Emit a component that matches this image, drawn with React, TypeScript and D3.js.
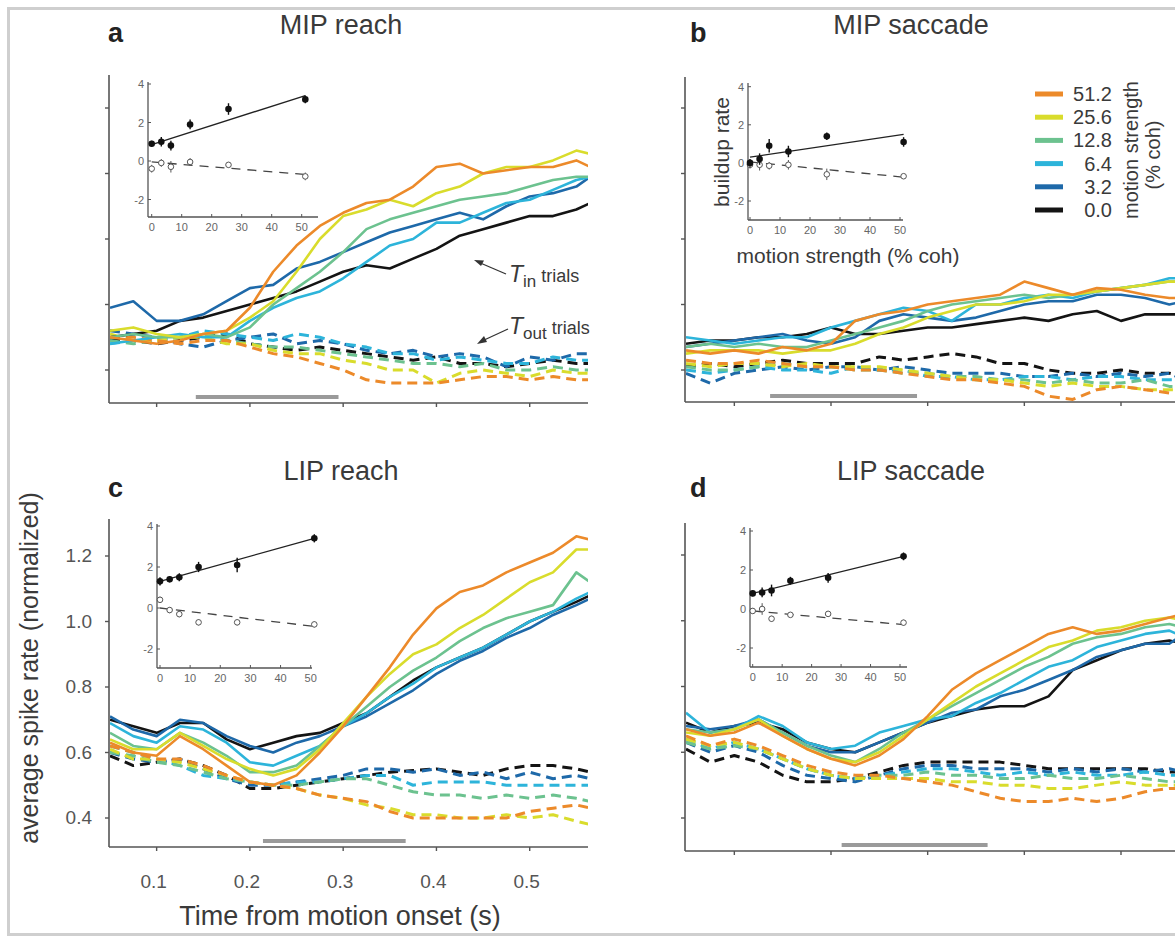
import React from 'react';
import * as d3 from 'd3';

// ---------- data ----------
const TIMES = [0.05, 0.075, 0.1, 0.125, 0.15, 0.175, 0.2, 0.225, 0.25, 0.275, 0.3, 0.325, 0.35, 0.375, 0.4, 0.425, 0.45, 0.475, 0.5, 0.525, 0.55, 0.565];
const COH_LABELS = ['51.2', '25.6', '12.8', '6.4', '3.2', '0.0'];
const COH_COLORS = ['#EC8A2A', '#D9DC2C', '#6CC28F', '#2DB4DA', '#1E69A9', '#141414'];
const Y_TICKS = [0.4, 0.6, 0.8, 1.0, 1.2];
const X_TICKS = [0.1, 0.2, 0.3, 0.4, 0.5];

// rows: 51.2, 25.6, 12.8, 6.4, 3.2, 0.0
const A_TIN = [
  [0.50, 0.49, 0.48, 0.49, 0.51, 0.52, 0.59, 0.70, 0.78, 0.84, 0.88, 0.91, 0.92, 0.96, 1.02, 1.03, 1.00, 1.01, 1.02, 1.02, 1.04, 1.02],
  [0.52, 0.53, 0.51, 0.50, 0.51, 0.52, 0.56, 0.61, 0.70, 0.80, 0.87, 0.89, 0.92, 0.90, 0.94, 0.96, 1.00, 1.02, 1.02, 1.04, 1.07, 1.06],
  [0.50, 0.51, 0.50, 0.50, 0.51, 0.50, 0.53, 0.60, 0.65, 0.70, 0.76, 0.83, 0.86, 0.88, 0.90, 0.92, 0.93, 0.94, 0.96, 0.98, 0.99, 0.99],
  [0.48, 0.49, 0.50, 0.51, 0.50, 0.50, 0.55, 0.59, 0.62, 0.64, 0.68, 0.73, 0.78, 0.80, 0.85, 0.85, 0.88, 0.91, 0.92, 0.95, 0.98, 0.99],
  [0.59, 0.61, 0.55, 0.55, 0.57, 0.61, 0.65, 0.66, 0.71, 0.73, 0.76, 0.79, 0.82, 0.84, 0.86, 0.88, 0.86, 0.90, 0.93, 0.94, 0.96, 0.99],
  [0.50, 0.51, 0.52, 0.55, 0.56, 0.58, 0.60, 0.62, 0.64, 0.67, 0.70, 0.72, 0.71, 0.74, 0.77, 0.81, 0.83, 0.85, 0.87, 0.87, 0.89, 0.91],
];
const A_TOUT = [
  [0.50, 0.50, 0.49, 0.48, 0.49, 0.49, 0.47, 0.45, 0.44, 0.42, 0.40, 0.37, 0.36, 0.36, 0.36, 0.37, 0.38, 0.38, 0.37, 0.38, 0.37, 0.37],
  [0.51, 0.49, 0.49, 0.50, 0.50, 0.48, 0.48, 0.46, 0.45, 0.45, 0.43, 0.42, 0.40, 0.40, 0.36, 0.39, 0.40, 0.39, 0.38, 0.40, 0.39, 0.39],
  [0.49, 0.48, 0.49, 0.50, 0.51, 0.49, 0.48, 0.47, 0.47, 0.46, 0.45, 0.44, 0.43, 0.42, 0.42, 0.41, 0.42, 0.40, 0.40, 0.41, 0.40, 0.40],
  [0.48, 0.49, 0.50, 0.50, 0.52, 0.51, 0.50, 0.49, 0.51, 0.50, 0.48, 0.47, 0.45, 0.45, 0.43, 0.44, 0.43, 0.42, 0.42, 0.44, 0.43, 0.43],
  [0.52, 0.51, 0.50, 0.48, 0.47, 0.49, 0.50, 0.51, 0.48, 0.49, 0.48, 0.46, 0.45, 0.46, 0.44, 0.45, 0.44, 0.41, 0.44, 0.43, 0.45, 0.45],
  [0.49, 0.49, 0.48, 0.49, 0.50, 0.51, 0.48, 0.47, 0.46, 0.47, 0.46, 0.45, 0.44, 0.43, 0.44, 0.42, 0.42, 0.41, 0.42, 0.43, 0.42, 0.42],
];
const B_TIN = [
  [0.46, 0.45, 0.46, 0.45, 0.47, 0.46, 0.48, 0.55, 0.57, 0.58, 0.60, 0.61, 0.62, 0.63, 0.67, 0.65, 0.63, 0.65, 0.645, 0.63, 0.62, 0.62],
  [0.45, 0.46, 0.46, 0.46, 0.45, 0.46, 0.46, 0.48, 0.51, 0.53, 0.56, 0.58, 0.60, 0.60, 0.61, 0.63, 0.63, 0.64, 0.65, 0.66, 0.67, 0.67],
  [0.47, 0.48, 0.47, 0.48, 0.47, 0.47, 0.49, 0.51, 0.53, 0.55, 0.58, 0.60, 0.61, 0.62, 0.63, 0.62, 0.63, 0.64, 0.65, 0.66, 0.67, 0.67],
  [0.50, 0.49, 0.48, 0.49, 0.50, 0.50, 0.53, 0.55, 0.57, 0.59, 0.58, 0.55, 0.60, 0.60, 0.62, 0.63, 0.62, 0.64, 0.65, 0.66, 0.68, 0.68],
  [0.47, 0.48, 0.49, 0.50, 0.51, 0.49, 0.48, 0.50, 0.55, 0.57, 0.56, 0.55, 0.56, 0.58, 0.60, 0.61, 0.61, 0.63, 0.63, 0.62, 0.60, 0.61],
  [0.48, 0.49, 0.49, 0.50, 0.50, 0.51, 0.53, 0.51, 0.51, 0.52, 0.53, 0.53, 0.54, 0.55, 0.56, 0.55, 0.57, 0.58, 0.55, 0.57, 0.57, 0.57],
];
const B_TOUT = [
  [0.43, 0.42, 0.42, 0.43, 0.42, 0.41, 0.41, 0.40, 0.40, 0.39, 0.38, 0.37, 0.37, 0.36, 0.35, 0.32, 0.31, 0.34, 0.35, 0.34, 0.33, 0.33],
  [0.42, 0.41, 0.42, 0.42, 0.41, 0.42, 0.41, 0.41, 0.41, 0.40, 0.39, 0.38, 0.37, 0.37, 0.36, 0.35, 0.36, 0.35, 0.35, 0.34, 0.34, 0.34],
  [0.41, 0.40, 0.40, 0.41, 0.42, 0.41, 0.41, 0.40, 0.40, 0.39, 0.39, 0.38, 0.38, 0.37, 0.37, 0.36, 0.37, 0.36, 0.36, 0.37, 0.35, 0.35],
  [0.40, 0.39, 0.40, 0.41, 0.40, 0.40, 0.39, 0.41, 0.40, 0.40, 0.38, 0.38, 0.37, 0.37, 0.38, 0.38, 0.37, 0.38, 0.38, 0.37, 0.37, 0.37],
  [0.39, 0.36, 0.39, 0.40, 0.41, 0.40, 0.41, 0.41, 0.40, 0.41, 0.40, 0.39, 0.39, 0.39, 0.38, 0.38, 0.39, 0.38, 0.39, 0.38, 0.39, 0.37],
  [0.41, 0.42, 0.41, 0.42, 0.43, 0.42, 0.42, 0.42, 0.44, 0.43, 0.44, 0.45, 0.44, 0.42, 0.42, 0.40, 0.39, 0.39, 0.40, 0.39, 0.39, 0.38],
];
const C_TIN = [
  [0.63, 0.60, 0.59, 0.65, 0.61, 0.56, 0.51, 0.50, 0.53, 0.60, 0.68, 0.77, 0.86, 0.96, 1.04, 1.09, 1.11, 1.15, 1.18, 1.21, 1.26, 1.25],
  [0.64, 0.61, 0.61, 0.66, 0.62, 0.58, 0.55, 0.53, 0.55, 0.61, 0.69, 0.77, 0.84, 0.90, 0.93, 0.98, 1.02, 1.07, 1.12, 1.15, 1.22, 1.22],
  [0.66, 0.62, 0.61, 0.66, 0.63, 0.59, 0.54, 0.54, 0.56, 0.62, 0.68, 0.74, 0.80, 0.85, 0.89, 0.94, 0.98, 1.01, 1.03, 1.05, 1.15, 1.12],
  [0.69, 0.65, 0.63, 0.68, 0.67, 0.63, 0.57, 0.56, 0.59, 0.62, 0.68, 0.72, 0.77, 0.81, 0.86, 0.89, 0.92, 0.96, 1.00, 1.03, 1.07, 1.09],
  [0.71, 0.67, 0.65, 0.70, 0.69, 0.65, 0.62, 0.60, 0.63, 0.65, 0.68, 0.71, 0.75, 0.79, 0.84, 0.88, 0.91, 0.95, 0.98, 1.02, 1.05, 1.07],
  [0.70, 0.68, 0.66, 0.69, 0.69, 0.64, 0.61, 0.63, 0.65, 0.66, 0.69, 0.72, 0.77, 0.82, 0.86, 0.89, 0.92, 0.96, 1.00, 1.03, 1.06, 1.08],
];
const C_TOUT = [
  [0.62, 0.60, 0.58, 0.58, 0.56, 0.53, 0.51, 0.50, 0.49, 0.47, 0.46, 0.45, 0.42, 0.40, 0.40, 0.40, 0.40, 0.40, 0.42, 0.43, 0.44, 0.43],
  [0.61, 0.58, 0.58, 0.57, 0.55, 0.53, 0.51, 0.50, 0.49, 0.47, 0.46, 0.44, 0.43, 0.41, 0.41, 0.40, 0.40, 0.41, 0.40, 0.41, 0.39, 0.38],
  [0.60, 0.59, 0.57, 0.56, 0.54, 0.52, 0.51, 0.50, 0.50, 0.51, 0.52, 0.52, 0.50, 0.48, 0.47, 0.47, 0.46, 0.47, 0.46, 0.47, 0.46, 0.45],
  [0.62, 0.60, 0.58, 0.56, 0.53, 0.52, 0.51, 0.50, 0.51, 0.51, 0.52, 0.53, 0.53, 0.50, 0.51, 0.51, 0.51, 0.50, 0.50, 0.50, 0.50, 0.50],
  [0.60, 0.58, 0.57, 0.58, 0.55, 0.52, 0.50, 0.50, 0.51, 0.52, 0.53, 0.55, 0.55, 0.54, 0.55, 0.53, 0.54, 0.52, 0.54, 0.52, 0.53, 0.52],
  [0.59, 0.56, 0.57, 0.58, 0.56, 0.53, 0.49, 0.49, 0.50, 0.51, 0.52, 0.53, 0.54, 0.545, 0.55, 0.54, 0.53, 0.55, 0.56, 0.56, 0.55, 0.54],
];
const D_TIN = [
  [0.67, 0.65, 0.66, 0.69, 0.65, 0.61, 0.58, 0.56, 0.59, 0.64, 0.71, 0.79, 0.84, 0.88, 0.92, 0.96, 0.98, 0.96, 0.97, 0.99, 1.01, 1.02],
  [0.66, 0.65, 0.67, 0.70, 0.65, 0.61, 0.58, 0.57, 0.60, 0.65, 0.70, 0.75, 0.80, 0.84, 0.88, 0.92, 0.94, 0.97, 0.98, 1.00, 1.01, 1.00],
  [0.67, 0.66, 0.67, 0.70, 0.66, 0.62, 0.59, 0.57, 0.61, 0.66, 0.70, 0.74, 0.78, 0.82, 0.86, 0.89, 0.93, 0.95, 0.96, 0.98, 0.99, 0.98],
  [0.72, 0.66, 0.67, 0.71, 0.68, 0.63, 0.61, 0.62, 0.66, 0.68, 0.70, 0.71, 0.75, 0.78, 0.82, 0.86, 0.88, 0.92, 0.94, 0.96, 0.97, 0.95],
  [0.68, 0.67, 0.68, 0.70, 0.66, 0.62, 0.60, 0.60, 0.63, 0.66, 0.69, 0.72, 0.73, 0.77, 0.79, 0.82, 0.85, 0.89, 0.91, 0.93, 0.93, 0.96],
  [0.69, 0.66, 0.68, 0.69, 0.67, 0.63, 0.61, 0.60, 0.63, 0.66, 0.69, 0.71, 0.73, 0.74, 0.74, 0.77, 0.85, 0.88, 0.91, 0.93, 0.94, 0.93],
];
const D_TOUT = [
  [0.65, 0.62, 0.64, 0.62, 0.59, 0.56, 0.54, 0.53, 0.53, 0.52, 0.51, 0.50, 0.48, 0.46, 0.45, 0.45, 0.46, 0.45, 0.46, 0.48, 0.49, 0.49],
  [0.64, 0.62, 0.63, 0.61, 0.58, 0.55, 0.53, 0.52, 0.52, 0.52, 0.52, 0.51, 0.51, 0.50, 0.50, 0.49, 0.49, 0.50, 0.51, 0.50, 0.50, 0.50],
  [0.63, 0.61, 0.62, 0.61, 0.58, 0.55, 0.53, 0.52, 0.53, 0.53, 0.54, 0.53, 0.53, 0.52, 0.52, 0.53, 0.52, 0.52, 0.53, 0.52, 0.51, 0.51],
  [0.64, 0.61, 0.63, 0.61, 0.58, 0.55, 0.53, 0.52, 0.53, 0.54, 0.55, 0.55, 0.54, 0.53, 0.54, 0.53, 0.54, 0.53, 0.53, 0.54, 0.53, 0.53],
  [0.63, 0.60, 0.62, 0.60, 0.56, 0.53, 0.52, 0.51, 0.53, 0.55, 0.56, 0.56, 0.55, 0.55, 0.55, 0.54, 0.55, 0.54, 0.55, 0.54, 0.55, 0.54],
  [0.61, 0.57, 0.59, 0.57, 0.53, 0.51, 0.51, 0.52, 0.54, 0.56, 0.57, 0.57, 0.57, 0.57, 0.56, 0.55, 0.55, 0.55, 0.55, 0.55, 0.54, 0.54],
];

// stimulus (gray) bars, in seconds
const A_BAR = [0.142, 0.295];
const B_BAR = [0.137, 0.289];
const C_BAR = [0.214, 0.367];
const D_BAR = [0.211, 0.362];

// insets: buildup rate vs motion strength
const INSET_COH = [0, 3.2, 6.4, 12.8, 25.6, 51.2];
const INSET_X_TICKS = [0, 10, 20, 30, 40, 50];
const INSET_Y_TICKS = [-2, 0, 2, 4];
const A_IN_RATE = [0.9, 1.0, 0.8, 1.9, 2.7, 3.2];
const A_IN_ERR = [0.15, 0.25, 0.25, 0.25, 0.3, 0.2];
const A_OUT_RATE = [-0.4, -0.1, -0.3, -0.05, -0.2, -0.8];
const A_OUT_ERR = [0.2, 0.2, 0.3, 0.2, 0.15, 0.2];
const A_IN_FIT = [0.85, 3.4];
const A_OUT_FIT = [-0.05, -0.7];
const B_IN_RATE = [0.0, 0.2, 0.9, 0.6, 1.4, 1.1];
const B_IN_ERR = [0.2, 0.3, 0.35, 0.3, 0.2, 0.25];
const B_OUT_RATE = [-0.1, -0.1, -0.15, -0.1, -0.6, -0.7];
const B_OUT_ERR = [0.2, 0.3, 0.2, 0.25, 0.3, 0.1];
const B_IN_FIT = [0.3, 1.5];
const B_OUT_FIT = [0.05, -0.75];
const C_IN_RATE = [1.3, 1.4, 1.5, 2.0, 2.1, 3.4];
const C_IN_ERR = [0.2, 0.15, 0.2, 0.25, 0.35, 0.2];
const C_OUT_RATE = [0.4, -0.1, -0.3, -0.7, -0.7, -0.8];
const C_OUT_ERR = [0.15, 0.15, 0.15, 0.15, 0.15, 0.15];
const C_IN_FIT = [1.3, 3.4];
const C_OUT_FIT = [0.0, -0.9];
const D_IN_RATE = [0.8, 0.85, 0.95, 1.45, 1.6, 2.7];
const D_IN_ERR = [0.15, 0.25, 0.3, 0.2, 0.25, 0.2];
const D_OUT_RATE = [-0.1, 0.0, -0.5, -0.3, -0.25, -0.7];
const D_OUT_ERR = [0.15, 0.3, 0.15, 0.1, 0.15, 0.15];
const D_IN_FIT = [0.8, 2.7];
const D_OUT_FIT = [-0.1, -0.8];

// ---------- layout ----------
const PANELS = [
  {
    letter: 'a', title: 'MIP reach', letterX: 108, titleX: 341, headY: 34, letterY: 42,
    xDom: [0.05, 0.5625], xRange: [110, 588], axisTop: 75, axisBot: 403, yAt04: 370, yAt12: 108,
    tin: A_TIN, tout: A_TOUT, bar: A_BAR, yLabels: false, xLabels: false,
    inset: { xl: 148, xr: 318, x0: 151.7, x50: 301.7, yt: 82, yb: 217, y0: 161, y4: 84,
      inR: A_IN_RATE, inE: A_IN_ERR, outR: A_OUT_RATE, outE: A_OUT_ERR, inF: A_IN_FIT, outF: A_OUT_FIT },
  },
  {
    letter: 'b', title: 'MIP saccade', letterX: 690, titleX: 911, headY: 34, letterY: 42,
    xDom: [0.05, 0.56], xRange: [686, 1179], axisTop: 77, axisBot: 402, yAt04: 370, yAt12: 108,
    tin: B_TIN, tout: B_TOUT, bar: B_BAR, yLabels: false, xLabels: false,
    inset: { xl: 748, xr: 903, x0: 750, x50: 900, yt: 83, yb: 220, y0: 162.9, y4: 86.7,
      inR: B_IN_RATE, inE: B_IN_ERR, outR: B_OUT_RATE, outE: B_OUT_ERR, inF: B_IN_FIT, outF: B_OUT_FIT },
  },
  {
    letter: 'c', title: 'LIP reach', letterX: 108, titleX: 341, headY: 480, letterY: 497,
    xDom: [0.05, 0.5625], xRange: [110, 588], axisTop: 519, axisBot: 847, yAt04: 818, yAt12: 556,
    tin: C_TIN, tout: C_TOUT, bar: C_BAR, yLabels: true, xLabels: true,
    inset: { xl: 157, xr: 312, x0: 160, x50: 310.7, yt: 524, yb: 668, y0: 608, y4: 526,
      inR: C_IN_RATE, inE: C_IN_ERR, outR: C_OUT_RATE, outE: C_OUT_ERR, inF: C_IN_FIT, outF: C_OUT_FIT },
  },
  {
    letter: 'd', title: 'LIP saccade', letterX: 690, titleX: 911, headY: 480, letterY: 497,
    xDom: [0.05, 0.56], xRange: [686, 1179], axisTop: 523, axisBot: 851, yAt04: 818, yAt12: 555,
    tin: D_TIN, tout: D_TOUT, bar: D_BAR, yLabels: false, xLabels: false,
    inset: { xl: 750, xr: 907, x0: 752.7, x50: 900, yt: 528, yb: 667, y0: 609, y4: 531,
      inR: D_IN_RATE, inE: D_IN_ERR, outR: D_OUT_RATE, outE: D_OUT_ERR, inF: D_IN_FIT, outF: D_OUT_FIT },
  },
];

const FONT = 'Liberation Sans, Arial, Helvetica, sans-serif';
const AXIS_COLOR = '#555';
const TEXT_COLOR = '#3a3a3a';

function Inset({ cfg }: { cfg: any }) {
  const x = d3.scaleLinear().domain([0, 50]).range([cfg.x0, cfg.x50]);
  const y = d3.scaleLinear().domain([0, 4]).range([cfg.y0, cfg.y4]);
  const fitLine = d3.line<number>().x((_, i) => x(i === 0 ? 0 : 51.2)).y((d) => y(d));
  const markerPts = INSET_COH.map((c, i) => ({ c, i }));
  return (
    <g>
      <line x1={cfg.xl} x2={cfg.xl} y1={cfg.yt} y2={cfg.yb} stroke={AXIS_COLOR} strokeWidth={1.3} />
      <line x1={cfg.xl} x2={cfg.xr} y1={cfg.yb} y2={cfg.yb} stroke={AXIS_COLOR} strokeWidth={1.3} />
      {INSET_Y_TICKS.map((t) => (
        <g key={'yt' + t}>
          <line x1={cfg.xl} x2={cfg.xl + 3} y1={y(t)} y2={y(t)} stroke={AXIS_COLOR} strokeWidth={1} />
          <text x={cfg.xl - 4} y={y(t) + 4} fontSize={11} textAnchor="end" fill="#666" fontFamily={FONT}>{t}</text>
        </g>
      ))}
      {INSET_X_TICKS.map((t) => (
        <g key={'xt' + t}>
          <line x1={x(t)} x2={x(t)} y1={cfg.yb} y2={cfg.yb - 3} stroke={AXIS_COLOR} strokeWidth={1} />
          <text x={x(t)} y={cfg.yb + 14} fontSize={11} textAnchor="middle" fill="#666" fontFamily={FONT}>{t}</text>
        </g>
      ))}
      <path d={fitLine(cfg.inF) || ''} fill="none" stroke="#222" strokeWidth={1.3} />
      <path d={fitLine(cfg.outF) || ''} fill="none" stroke="#444" strokeWidth={1.3} strokeDasharray="9,7" />
      {markerPts.map(({ c, i }) => (
        <g key={'o' + i}>
          <line x1={x(c)} x2={x(c)} y1={y(cfg.outR[i] - cfg.outE[i])} y2={y(cfg.outR[i] + cfg.outE[i])} stroke="#555" strokeWidth={1} />
          <circle cx={x(c)} cy={y(cfg.outR[i])} r={2.8} fill="#fff" stroke="#555" strokeWidth={1} />
        </g>
      ))}
      {markerPts.map(({ c, i }) => (
        <g key={'f' + i}>
          <line x1={x(c)} x2={x(c)} y1={y(cfg.inR[i] - cfg.inE[i])} y2={y(cfg.inR[i] + cfg.inE[i])} stroke="#111" strokeWidth={1.4} />
          <circle cx={x(c)} cy={y(cfg.inR[i])} r={3.3} fill="#111" />
        </g>
      ))}
    </g>
  );
}

function Panel({ p, idx }: { p: any; idx: number }) {
  const x = d3.scaleLinear().domain(p.xDom).range(p.xRange);
  const y = d3.scaleLinear().domain([0.4, 1.2]).range([p.yAt04, p.yAt12]);
  const line = d3.line<number>().x((_, i) => x(TIMES[i])).y((d) => y(d));
  const clipId = 'clip' + idx;
  const order = [5, 4, 3, 2, 1, 0];
  return (
    <g>
      <defs>
        <clipPath id={clipId}>
          <rect x={p.xRange[0]} y={p.axisTop - 10} width={p.xRange[1] - p.xRange[0]} height={p.axisBot - p.axisTop + 10} />
        </clipPath>
      </defs>
      <text x={p.letterX} y={p.letterY} fontSize={27} fontWeight="bold" fill="#222" fontFamily={FONT}>{p.letter}</text>
      <text x={p.titleX} y={p.headY} fontSize={27} textAnchor="middle" fill={TEXT_COLOR} fontFamily={FONT}>{p.title}</text>
      {/* stimulus bar */}
      <line x1={x(p.bar[0])} x2={x(p.bar[1])} y1={p.axisBot - 6} y2={p.axisBot - 6} stroke="#9a9a9a" strokeWidth={4} />
      <g clipPath={`url(#${clipId})`}>
        {order.map((k) => (
          <path key={'out' + k} d={line(p.tout[k]) || ''} fill="none" stroke={COH_COLORS[k]} strokeWidth={3} strokeDasharray="10,6" strokeLinejoin="round" />
        ))}
        {order.map((k) => (
          <path key={'in' + k} d={line(p.tin[k]) || ''} fill="none" stroke={COH_COLORS[k]} strokeWidth={2.6} strokeLinejoin="round" />
        ))}
      </g>
      {/* axes */}
      <line x1={p.xRange[0] - 1} x2={p.xRange[0] - 1} y1={p.axisTop} y2={p.axisBot} stroke={AXIS_COLOR} strokeWidth={1.6} />
      <line x1={p.xRange[0] - 1} x2={p.xRange[1]} y1={p.axisBot} y2={p.axisBot} stroke={AXIS_COLOR} strokeWidth={1.6} />
      {Y_TICKS.map((t) => (
        <g key={'y' + t}>
          <line x1={p.xRange[0] - 5} x2={p.xRange[0] - 1} y1={y(t)} y2={y(t)} stroke={AXIS_COLOR} strokeWidth={1.4} />
          {p.yLabels && (
            <text x={p.xRange[0] - 18} y={y(t) + 6} fontSize={19} textAnchor="end" fill="#555" fontFamily={FONT}>{t.toFixed(1)}</text>
          )}
        </g>
      ))}
      {X_TICKS.map((t) => (
        <g key={'x' + t}>
          <line x1={x(t)} x2={x(t)} y1={p.axisBot} y2={p.axisBot + 4} stroke={AXIS_COLOR} strokeWidth={1.4} />
          {p.xLabels && (
            <text x={x(t) - 3} y={p.axisBot + 41} fontSize={19} textAnchor="middle" fill="#555" fontFamily={FONT}>{t.toFixed(1)}</text>
          )}
        </g>
      ))}
      <Inset cfg={p.inset} />
    </g>
  );
}

export default function App() {
  const legendY = d3.scaleLinear().domain([0, 5]).range([94, 210]);
  return (
    <svg width={1175} height={938} style={{ position: 'absolute', left: 0, top: 0, background: '#fff' }} fontFamily={FONT}>
      <rect x={0} y={0} width={1175} height={938} fill="#fff" />
      <rect x={8.5} y={8.5} width={1180} height={926} fill="none" stroke="#cfcfcf" strokeWidth={3} />
      {PANELS.map((p, i) => (
        <Panel key={p.letter} p={p} idx={i} />
      ))}
      {/* inset labels in b */}
      <text transform="translate(729,152) rotate(-90)" fontSize={21} textAnchor="middle" fill={TEXT_COLOR}>buildup rate</text>
      <text x={848} y={263} fontSize={21} textAnchor="middle" fill={TEXT_COLOR}>motion strength (% coh)</text>
      {/* legend */}
      {COH_LABELS.map((lab, i) => (
        <g key={lab}>
          <line x1={1035} x2={1063} y1={legendY(i)} y2={legendY(i)} stroke={COH_COLORS[i]} strokeWidth={5} />
          <text x={1112} y={legendY(i) + 7} fontSize={20} textAnchor="end" fill={TEXT_COLOR}>{lab}</text>
        </g>
      ))}
      <text transform="translate(1138,150) rotate(-90)" fontSize={20} textAnchor="middle" fill={TEXT_COLOR}>motion strength</text>
      <text transform="translate(1160,155) rotate(-90)" fontSize={20} textAnchor="middle" fill={TEXT_COLOR}>(% coh)</text>
      {/* annotations in a */}
      <line x1={506} y1={274} x2={478} y2={262} stroke="#333" strokeWidth={1.3} />
      <path d="M474,260 L484,260.5 L481,266 Z" fill="#333" />
      <text x={509} y={282} fill={TEXT_COLOR} fontSize={23}>
        <tspan fontStyle="italic">T</tspan>
        <tspan fontSize={17} dy={5}>in</tspan>
        <tspan fontSize={18} dy={-5}> trials</tspan>
      </text>
      <line x1={508} y1={329} x2={482} y2={341} stroke="#333" strokeWidth={1.3} />
      <path d="M477,344 L484,336 L487,342 Z" fill="#333" />
      <text x={509} y={334} fill={TEXT_COLOR} fontSize={23}>
        <tspan fontStyle="italic">T</tspan>
        <tspan fontSize={17} dy={5}>out</tspan>
        <tspan fontSize={18} dy={-5}> trials</tspan>
      </text>
      {/* shared axis labels */}
      <text transform="translate(38,668) rotate(-90)" fontSize={25} textAnchor="middle" fill={TEXT_COLOR}>average spike rate (normalized)</text>
      <text x={340} y={925} fontSize={27} textAnchor="middle" fill={TEXT_COLOR}>Time from motion onset (s)</text>
    </svg>
  );
}
